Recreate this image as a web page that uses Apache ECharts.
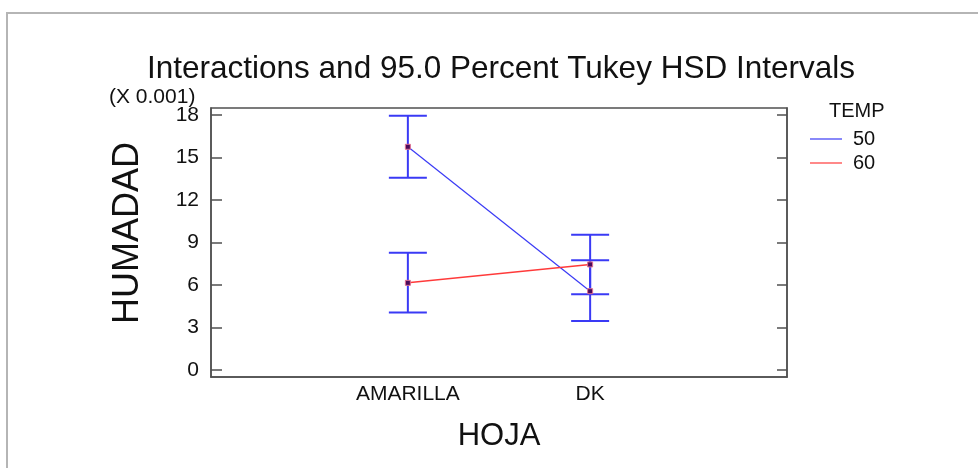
<!DOCTYPE html>
<html>
<head>
<meta charset="utf-8">
<script src="https://cdn.jsdelivr.net/npm/echarts@6/dist/echarts.min.js"></script>
<style>
  html, body { margin: 0; padding: 0; background: #fff; }
  #chart { width: 978px; height: 468px; }
</style>
</head>
<body>
<div id="chart"></div>
<script>
// Leaf type (HOJA) categories, placed at x = 1, 2
const hoja = ['AMARILLA', 'DK'];
const tempLevels = ['50', '60'];

// Mean humidity (x 0.001) per temperature level
const mean50 = [15.76, 5.56];
const mean60 = [6.15, 7.45];

// Tukey HSD interval bounds (x 0.001)
const lower50 = [13.57, 3.46];
const upper50 = [17.95, 7.75];
const lower60 = [4.06, 5.35];
const upper60 = [8.27, 9.54];

const yTicks = [0, 3, 6, 9, 12, 15, 18];

const FONT = 'Liberation Sans, Arial, sans-serif';
const BLUE = '#3a3af5';
const RED = '#ff3a3a';
const lineColors = [BLUE, RED];

const toPoints = vals => vals.map((v, i) => [i + 1, v]);
const intervals = [];
[[lower50, upper50], [lower60, upper60]].forEach(([lo, hi]) => {
  lo.forEach((v, i) => intervals.push([i + 1, v, hi[i]]));
});

const chart = echarts.init(document.getElementById('chart'));

const markerStyle = { color: '#4a0b5a', borderColor: '#e07090', borderWidth: 1 };

chart.setOption({
  animation: false,
  backgroundColor: '#fff',
  title: {
    text: 'Interactions and 95.0 Percent Tukey HSD Intervals',
    left: 142,
    top: 48,
    textStyle: { fontFamily: FONT, fontSize: 31.5, fontWeight: 'normal', color: '#111' }
  },
  graphic: [
    {
      type: 'rect', silent: true, z: -10,
      shape: { x: 7, y: 13, width: 1000, height: 500 },
      style: { fill: 'none', stroke: '#b5b5b5', lineWidth: 2 }
    },
    {
      type: 'text', left: 109, top: 87,
      style: { text: '(X 0.001)', fontFamily: FONT, fontSize: 21, fill: '#111' }
    },
    {
      type: 'text', left: 829, top: 101,
      style: { text: 'TEMP', fontFamily: FONT, fontSize: 20, fill: '#111' }
    },
    {
      type: 'text', x: 128, y: 233, rotation: Math.PI / 2,
      style: {
        text: 'HUMADAD', fontFamily: FONT, fontSize: 36, fill: '#111',
        align: 'center', verticalAlign: 'middle'
      }
    }
  ],
  legend: {
    orient: 'vertical',
    left: 810,
    top: 129,
    padding: 0,
    itemGap: 4,
    itemWidth: 32,
    itemHeight: 1.2,
    icon: 'rect',
    data: tempLevels.map((name, i) => ({
      name,
      itemStyle: { color: lineColors[i], borderWidth: 0 }
    })),
    textStyle: { fontFamily: FONT, fontSize: 20, color: '#111', padding: [0, 0, 0, 6] }
  },
  grid: {
    left: 211, top: 108, right: 191, bottom: 91,
    show: true, borderColor: '#505050', borderWidth: 1.5
  },
  xAxis: {
    type: 'value',
    min: -0.08,
    max: 3.08,
    name: 'HOJA',
    nameLocation: 'middle',
    nameGap: 44,
    nameTextStyle: { fontFamily: FONT, fontSize: 31, color: '#111' },
    axisLine: { show: true, onZero: false, lineStyle: { color: '#505050', width: 1.5 } },
    axisTick: { show: false },
    splitLine: { show: false },
    axisLabel: {
      customValues: [1, 2],
      formatter: v => hoja[Math.round(v) - 1] || '',
      fontFamily: FONT, fontSize: 21, color: '#111', margin: 7
    }
  },
  yAxis: [
    {
      type: 'value',
      min: -0.5,
      max: 18.5,
      axisLine: { show: true, onZero: false, lineStyle: { color: '#505050', width: 1.5 } },
      axisTick: {
        show: true, inside: true, length: 11, customValues: yTicks,
        lineStyle: { color: '#505050', width: 1.5 }
      },
      axisLabel: {
        customValues: yTicks,
        fontFamily: FONT, fontSize: 21, color: '#111', margin: 12
      },
      splitLine: { show: false }
    },
    {
      type: 'value',
      position: 'right',
      min: -0.5,
      max: 18.5,
      axisLine: { show: true, onZero: false, lineStyle: { color: '#505050', width: 1.5 } },
      axisTick: {
        show: true, inside: true, length: 10, customValues: yTicks,
        lineStyle: { color: '#505050', width: 1.5 }
      },
      axisLabel: { show: false },
      splitLine: { show: false }
    }
  ],
  series: [
    {
      name: '50',
      type: 'line',
      data: toPoints(mean50),
      color: BLUE,
      lineStyle: { color: BLUE, width: 1.2 },
      symbol: 'rect',
      symbolSize: 5,
      itemStyle: markerStyle,
      z: 3
    },
    {
      name: '60',
      type: 'line',
      data: toPoints(mean60),
      color: RED,
      lineStyle: { color: RED, width: 1.5 },
      symbol: 'rect',
      symbolSize: 5,
      itemStyle: markerStyle,
      z: 3
    },
    {
      type: 'custom',
      name: 'intervals',
      data: intervals,
      z: 2,
      renderItem: (params, api) => {
        const lo = api.coord([api.value(0), api.value(1)]);
        const hi = api.coord([api.value(0), api.value(2)]);
        const half = 19;
        const style = { stroke: BLUE, lineWidth: 2 };
        return {
          type: 'group',
          children: [
            { type: 'line', shape: { x1: lo[0], y1: lo[1], x2: hi[0], y2: hi[1] }, style },
            { type: 'line', shape: { x1: lo[0] - half, y1: lo[1], x2: lo[0] + half, y2: lo[1] }, style },
            { type: 'line', shape: { x1: hi[0] - half, y1: hi[1], x2: hi[0] + half, y2: hi[1] }, style }
          ]
        };
      }
    }
  ]
});
</script>
</body>
</html>
